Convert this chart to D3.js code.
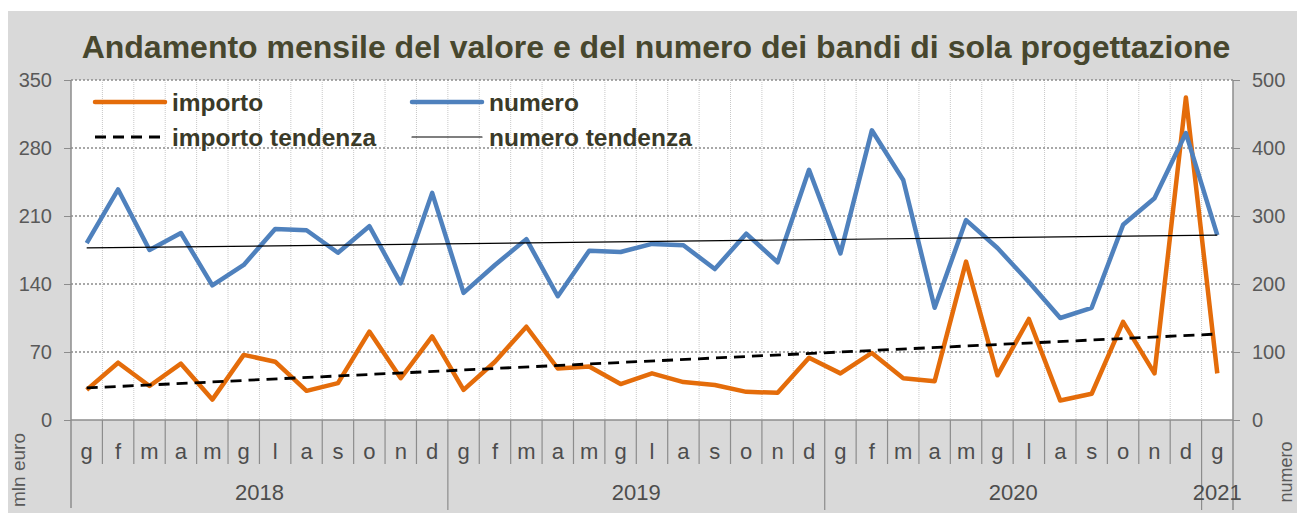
<!DOCTYPE html>
<html>
<head>
<meta charset="utf-8">
<script src="https://cdn.jsdelivr.net/npm/d3@7"></script>
<style>
  body { margin: 0; background: #fff; }
  text { font-family: "Liberation Sans", Arial, sans-serif; }
</style>
</head>
<body>
<div id="vis"></div>
<script>
// months Jan 2018 - Jan 2021
let months = ['g','f','m','a','m','g','l','a','s','o','n','d',
              'g','f','m','a','m','g','l','a','s','o','n','d',
              'g','f','m','a','m','g','l','a','s','o','n','d',
              'g']
let years = [
  { label: '2018', start: 0, end: 11 },
  { label: '2019', start: 12, end: 23 },
  { label: '2020', start: 24, end: 35 },
  { label: '2021', start: 36, end: 36 }
]
// mln euro
let importo = [31, 59, 35, 58, 21, 67, 60, 30, 38, 91, 43, 86,
               31, 60, 96, 53, 55, 37, 48, 39, 36, 29, 28, 64,
               48, 69, 43, 40, 163, 46, 104, 20, 27, 101, 48, 332,
               48]
// number of tenders
let numero = [260, 339, 250, 275, 198, 228, 281, 279, 246, 285, 201, 334,
              187, 228, 266, 182, 249, 247, 259, 257, 222, 274, 232, 368,
              245, 426, 353, 165, 294, 253, 203, 150, 165, 287, 326, 422,
              272]
// trend lines, value at first and last month
let importoTrend = [33, 88.5]
let numeroTrend = [253, 272]

let leftTicks = [0, 70, 140, 210, 280, 350]
let rightTicks = [0, 100, 200, 300, 400, 500]

let W = 1297, H = 513
let margin = { top: 80, left: 71, right: 64, bottom: 93 }
let width = W - margin.left - margin.right,
    height = H - margin.top - margin.bottom

let svg = d3.select('#vis')
  .append('svg')
  .attr('width', W)
  .attr('height', H)

// gray frame
svg.append('rect')
  .attr('x', 8).attr('y', 11)
  .attr('width', W - 8).attr('height', H - 11)
  .attr('fill', '#d9d9d9')

let g = svg.append('g').attr('transform', `translate(${margin.left},${margin.top})`)

g.append('rect')
  .attr('width', width).attr('height', height)
  .attr('fill', '#ffffff')

let x = d3.scaleBand().domain(d3.range(months.length)).range([0, width]).padding(0)
let yL = d3.scaleLinear().domain([0, 350]).range([height, 0])
let yR = d3.scaleLinear().domain([0, 500]).range([height, 0])
let cx = i => x(i) + x.bandwidth() / 2

// vertical gridlines
g.selectAll('.vgrid')
  .data(d3.range(1, months.length))
  .join('line')
  .attr('x1', d => x(d)).attr('x2', d => x(d))
  .attr('y1', 0).attr('y2', height)
  .attr('stroke', '#c8c8c8')
  .attr('stroke-width', 1)
  .attr('stroke-dasharray', '1,1')

// horizontal gridlines
g.selectAll('.hgrid')
  .data(leftTicks.slice(1))
  .join('line')
  .attr('x1', 0).attr('x2', width)
  .attr('y1', d => yL(d)).attr('y2', d => yL(d))
  .attr('stroke', '#8c8c8c')
  .attr('stroke-width', 1.5)
  .attr('stroke-dasharray', '2,2')

// left axis
let leftAxis = g.append('g')
  .call(d3.axisLeft(yL).tickValues(leftTicks).tickSize(7).tickPadding(12))
leftAxis.select('.domain').remove()
leftAxis.selectAll('line').attr('stroke', '#8c8c8c')
leftAxis.selectAll('text').attr('fill', '#595959').style('font-size', '20px')

// right axis
let rightAxis = g.append('g')
  .attr('transform', `translate(${width},0)`)
  .call(d3.axisRight(yR).tickValues(rightTicks).tickSize(7).tickPadding(12))
rightAxis.select('.domain').remove()
rightAxis.selectAll('line').attr('stroke', '#8c8c8c')
rightAxis.selectAll('text').attr('fill', '#595959').style('font-size', '20px')

// x axis baseline
g.append('line')
  .attr('x1', 0).attr('x2', width)
  .attr('y1', height).attr('y2', height)
  .attr('stroke', '#8c8c8c').attr('stroke-width', 1.5)

// vertical axis lines extended through the label area
g.append('line')
  .attr('x1', 0).attr('x2', 0).attr('y1', 0).attr('y2', height + 88)
  .attr('stroke', '#8c8c8c').attr('stroke-width', 1.5)
g.append('line')
  .attr('x1', width).attr('x2', width).attr('y1', 0).attr('y2', height + 90)
  .attr('stroke', '#8c8c8c').attr('stroke-width', 1.5)

// month separators
g.selectAll('.mtick')
  .data(d3.range(1, months.length))
  .join('line')
  .attr('x1', d => x(d)).attr('x2', d => x(d))
  .attr('y1', height)
  .attr('y2', d => years.some(y => y.start === d) ? height + 90 : height + 44)
  .attr('stroke', '#8c8c8c').attr('stroke-width', 1.2)

// month labels
g.selectAll('.mlabel')
  .data(months)
  .join('text')
  .attr('x', (d, i) => cx(i))
  .attr('y', height + 39)
  .attr('text-anchor', 'middle')
  .attr('fill', '#4d4d4d')
  .style('font-size', '22px')
  .text(d => d)

// year labels
g.selectAll('.ylabel')
  .data(years)
  .join('text')
  .attr('x', d => (x(d.start) + x(d.end) + x.bandwidth()) / 2)
  .attr('y', height + 80)
  .attr('text-anchor', 'middle')
  .attr('fill', '#4d4d4d')
  .style('font-size', '22px')
  .text(d => d.label)

// series
let lineL = d3.line().x((d, i) => cx(i)).y(d => yL(d))
let lineR = d3.line().x((d, i) => cx(i)).y(d => yR(d))

g.append('path')
  .datum(importo)
  .attr('d', lineL)
  .attr('fill', 'none')
  .attr('stroke', '#e46c0a')
  .attr('stroke-width', 4.5)
  .attr('stroke-linejoin', 'round')

g.append('path')
  .datum(numero)
  .attr('d', lineR)
  .attr('fill', 'none')
  .attr('stroke', '#4f81bd')
  .attr('stroke-width', 4.5)
  .attr('stroke-linejoin', 'round')

// trends
let last = months.length - 1
g.append('line')
  .attr('x1', cx(0)).attr('x2', cx(last))
  .attr('y1', yL(importoTrend[0])).attr('y2', yL(importoTrend[1]))
  .attr('stroke', '#000').attr('stroke-width', 2.8)
  .attr('stroke-dasharray', '11,7')

g.append('line')
  .attr('x1', cx(0)).attr('x2', cx(last))
  .attr('y1', yR(numeroTrend[0])).attr('y2', yR(numeroTrend[1]))
  .attr('stroke', '#000').attr('stroke-width', 1.2)

// legend
let legend = [
  { label: 'importo', x: 24, y: 22, color: '#e46c0a', w: 4.5, dash: null },
  { label: 'numero', x: 341, y: 22, color: '#4f81bd', w: 4.5, dash: null },
  { label: 'importo tendenza', x: 24, y: 57, color: '#000', w: 2.8, dash: '11,7' },
  { label: 'numero tendenza', x: 341, y: 57, color: '#000', w: 1.2, dash: null }
]
let lg = g.selectAll('.legend').data(legend).join('g')
  .attr('transform', d => `translate(${d.x},${d.y})`)
lg.append('line')
  .attr('x1', 0).attr('x2', 70)
  .attr('stroke', d => d.color)
  .attr('stroke-width', d => d.w)
  .attr('stroke-dasharray', d => d.dash)
  .attr('stroke-linecap', d => d.dash ? 'butt' : 'round')
lg.append('text')
  .attr('x', 77).attr('y', 9)
  .attr('fill', '#3a3a28')
  .style('font-size', '24.5px')
  .style('font-weight', '600')
  .text(d => d.label)

// title
svg.append('text')
  .attr('x', 656).attr('y', 58)
  .attr('text-anchor', 'middle')
  .attr('fill', '#47472e')
  .style('font-size', '32px')
  .style('font-weight', 'bold')
  .text('Andamento mensile del valore e del numero dei bandi di sola progettazione')

// axis titles
svg.append('text')
  .attr('transform', 'translate(25,470) rotate(-90)')
  .attr('text-anchor', 'middle')
  .attr('fill', '#595959')
  .style('font-size', '19px')
  .text('mln euro')

svg.append('text')
  .attr('transform', 'translate(1292,472) rotate(-90)')
  .attr('text-anchor', 'middle')
  .attr('fill', '#595959')
  .style('font-size', '18px')
  .text('numero')
</script>
</body>
</html>
